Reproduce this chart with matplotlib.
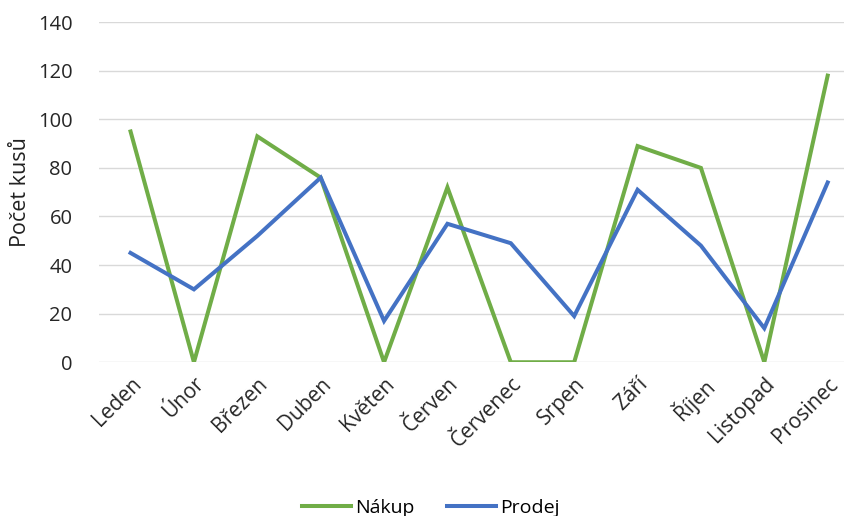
import matplotlib.pyplot as plt

# Data
mesice = ["Leden", "Únor", "Březen", "Duben", "Květen", "Červen",
          "Červenec", "Srpen", "Září", "Říjen", "Listopad", "Prosinec"]
nakup = [95, 0, 93, 76, 0, 72, 0, 0, 89, 80, 0, 118]
prodej = [45, 30, 52, 76, 17, 57, 49, 19, 71, 48, 14, 74]

plt.rcParams['font.family'] = ['Open Sans', 'DejaVu Sans']

fig = plt.figure(figsize=(8.45, 5.16), dpi=100)
ax = fig.add_axes([0.117, 0.298, 0.9, 0.659])

x = range(len(mesice))
ax.plot(x, nakup, color='#70AD47', linewidth=2.9, label="Nákup", solid_joinstyle='miter')
ax.plot(x, prodej, color='#4472C4', linewidth=2.9, label="Prodej", solid_joinstyle='miter')

ax.set_xlim(-0.5, len(mesice) - 0.5)
ax.set_ylim(0, 140)
ax.set_yticks(range(0, 141, 20))
ax.set_xticks(list(x))
ax.set_xticklabels(mesice, rotation=45, ha='right', rotation_mode='anchor')
ax.tick_params(axis='both', length=0, colors='#262626')
ax.tick_params(axis='y', pad=19, labelsize=14.5)
ax.tick_params(axis='x', pad=8, labelsize=15)

ax.grid(axis='y', color='#D9D9D9', linewidth=1)
ax.set_axisbelow(True)
for s in ax.spines.values():
    s.set_visible(False)

ax.set_ylabel("Počet kusů", fontsize=15.5, color='#222222', labelpad=5)

fig.legend(loc='lower center', bbox_to_anchor=(0.51, -0.035), ncol=2, frameon=False,
           fontsize=14, handlelength=2.5, columnspacing=1.7, handletextpad=0.2)

plt.savefig("out.png", dpi=100)
